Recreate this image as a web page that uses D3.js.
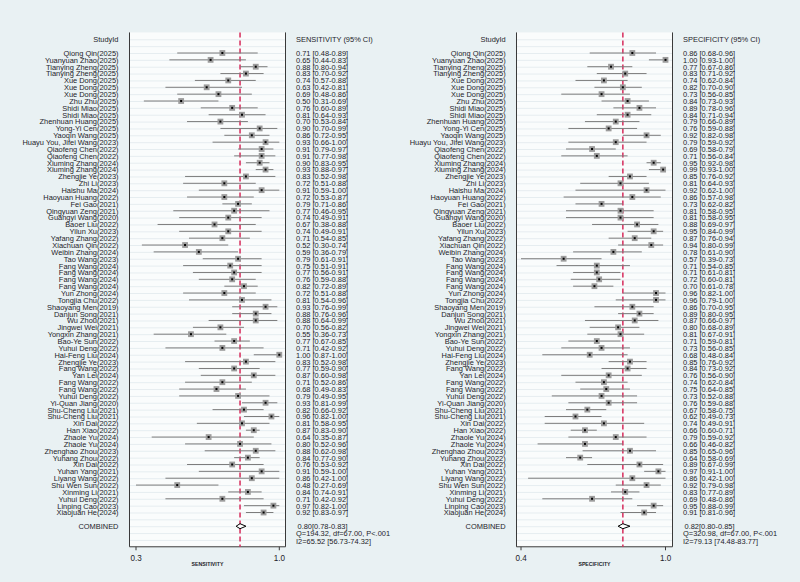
<!DOCTYPE html>
<html>
<head>
<meta charset="utf-8">
<script src="https://cdn.jsdelivr.net/npm/d3@7"></script>
<style>
body{margin:0;background:#e9f1f3;}
text{font-family:"Liberation Sans",Arial,sans-serif;fill:#1d2329;}
</style>
</head>
<body>
<div id="chart"></div>
<script>
var studies = ["Qiong Qin(2025)","Yuanyuan Zhao(2025)","Tianying Zheng(2025)","Tianying Zheng(2025)","Xue Dong(2025)","Xue Dong(2025)","Xue Dong(2025)","Zhu Zhu(2025)","Shidi Miao(2025)","Shidi Miao(2025)","Zhenhuan Huang(2025)","Yong-Yi Cen(2025)","Yaoqin Wang(2025)","Huayu You, Jifei Wang(2023)","Qiaofeng Chen(2022)","Qiaofeng Chen(2022)","Xiuming Zhang(2024)","Xiuming Zhang(2024)","Zhengjie Ye(2023)","Zhi Li(2023)","Haishu Ma(2024)","Haoyuan Huang(2022)","Fei Gao(2021)","Qingyuan Zeng(2021)","Guangyi Wang(2020)","Baoer Liu(2022)","Yilun Xu(2023)","Yafang Zhang(2022)","Xiachuan Qin(2022)","Weibin Zhang(2024)","Tao Wang(2023)","Fang Wang(2024)","Fang Wang(2024)","Fang Wang(2024)","Fang Wang(2024)","Yun Zhong(2024)","Tongjia Chu(2022)","Shaoyang Men(2019)","Danjun Song(2021)","Wu Zhou(2021)","Jingwei Wei(2021)","Yongxin Zhang(2021)","Bao-Ye Sun(2022)","Yuhui Deng(2022)","Hai-Feng Liu(2024)","Zhengjie Ye(2023)","Fang Wang(2022)","Yan Lei(2024)","Fang Wang(2022)","Fang Wang(2022)","Yuhui Deng(2022)","Yi-Quan Jiang(2020)","Shu-Cheng Liu(2021)","Shu-Cheng Liu(2021)","Xin Dai(2022)","Han Xiao(2022)","Zhaole Yu(2024)","Zhaole Yu(2024)","Zhenghao Zhou(2023)","Yuhang Zhou(2022)","Xin Dai(2022)","Yuhan Yang(2021)","Liyang Wang(2022)","Shu Wen Sun(2022)","Xinming Li(2021)","Yuhui Deng(2022)","Linping Cao(2023)","Xiaojuan He(2024)"];

var sensEst = [0.71,0.65,0.88,0.83,0.74,0.63,0.69,0.50,0.76,0.81,0.70,0.90,0.86,0.93,0.91,0.91,0.90,0.93,0.83,0.72,0.91,0.72,0.79,0.77,0.74,0.67,0.74,0.71,0.52,0.59,0.79,0.75,0.77,0.76,0.82,0.72,0.81,0.93,0.88,0.88,0.70,0.55,0.77,0.71,1.00,0.83,0.77,0.87,0.71,0.68,0.79,0.93,0.82,0.96,0.81,0.87,0.64,0.80,0.88,0.84,0.76,0.91,0.86,0.48,0.84,0.71,0.97,0.92];
var sensLo = [0.48,0.44,0.80,0.70,0.57,0.42,0.48,0.31,0.60,0.64,0.53,0.70,0.72,0.66,0.79,0.77,0.83,0.88,0.52,0.51,0.59,0.53,0.71,0.46,0.49,0.38,0.49,0.54,0.30,0.36,0.61,0.51,0.56,0.59,0.72,0.51,0.54,0.76,0.76,0.64,0.56,0.36,0.67,0.42,0.87,0.52,0.59,0.60,0.52,0.49,0.49,0.81,0.66,0.82,0.58,0.83,0.35,0.52,0.62,0.77,0.53,0.59,0.42,0.27,0.74,0.42,0.82,0.83];
var sensHi = [0.89,0.83,0.94,0.92,0.88,0.81,0.86,0.69,0.89,0.93,0.84,0.99,0.95,1.00,0.97,0.98,0.95,0.97,0.98,0.88,1.00,0.87,0.86,0.95,0.91,0.88,0.91,0.85,0.74,0.79,0.91,0.91,0.91,0.88,0.89,0.88,0.96,0.99,0.96,0.99,0.82,0.73,0.85,0.92,1.00,0.98,0.90,0.98,0.86,0.83,0.95,0.99,0.92,1.00,0.95,0.90,0.87,0.96,0.98,0.90,0.92,1.00,1.00,0.69,0.91,0.92,1.00,0.97];

var specEst = [0.86,1.00,0.77,0.83,0.74,0.82,0.73,0.84,0.89,0.84,0.79,0.76,0.92,0.79,0.69,0.71,0.95,0.99,0.85,0.81,0.92,0.86,0.73,0.81,0.81,0.88,0.95,0.87,0.94,0.78,0.57,0.71,0.71,0.72,0.70,0.96,0.96,0.86,0.89,0.87,0.80,0.81,0.71,0.73,0.68,0.85,0.84,0.76,0.74,0.75,0.73,0.76,0.67,0.62,0.74,0.66,0.79,0.66,0.85,0.64,0.89,0.97,0.86,0.92,0.83,0.69,0.95,0.91];
var specLo = [0.68,0.93,0.67,0.71,0.62,0.70,0.56,0.73,0.78,0.71,0.66,0.59,0.82,0.59,0.58,0.56,0.92,0.93,0.76,0.64,0.62,0.57,0.62,0.58,0.58,0.69,0.84,0.76,0.80,0.61,0.39,0.54,0.61,0.60,0.61,0.82,0.79,0.70,0.80,0.66,0.68,0.67,0.59,0.56,0.48,0.76,0.73,0.56,0.62,0.64,0.52,0.59,0.58,0.49,0.49,0.60,0.59,0.46,0.65,0.58,0.67,0.91,0.42,0.79,0.77,0.48,0.88,0.81];
var specHi = [0.96,1.00,0.86,0.92,0.84,0.90,0.85,0.93,0.96,0.94,0.89,0.88,0.98,0.92,0.79,0.84,0.98,1.00,0.92,0.93,1.00,0.98,0.82,0.95,0.95,0.97,0.99,0.94,0.99,0.90,0.73,0.85,0.81,0.81,0.78,1.00,1.00,0.95,0.95,0.97,0.89,0.91,0.81,0.85,0.84,0.92,0.92,0.90,0.84,0.85,0.88,0.88,0.75,0.73,0.91,0.71,0.92,0.82,0.96,0.69,0.99,1.00,1.00,0.98,0.89,0.86,0.99,0.96];

// pooled estimate, lower, upper
var sensPooled = [0.80,0.78,0.83];
var specPooled = [0.82,0.80,0.85];
var sensStats = ["Q=194.32, df=67.00, P<.001","I2=65.52 [56.73-74.32]"];
var specStats = ["Q=320.98, df=67.00, P<.001","I2=79.13 [74.48-83.77]"];

// axis ends (min lower CI / max upper CI) and how they are printed
var sensTicks = [0.27,1.00];
var sensTickLabels = ["0.3","1.0"];
var specTicks = [0.39,1.00];
var specTickLabels = ["0.4","1.0"];

var width = 800, height = 582;
var fmt = d3.format(".2f");

var svg = d3.select("#chart").append("svg")
    .attr("width", width)
    .attr("height", height);

var yScale = d3.scaleLinear().domain([0, studies.length - 1]).range([53, 512.5]);

function txt(g, x, y, s, anchor, size, sx){
    return g.append("text")
        .attr("transform", "translate(" + x + "," + y + ") scale(" + (sx || 0.92) + ",1)")
        .attr("text-anchor", anchor)
        .style("font-size", size + "px")
        .text(s);
}

function panel(opt){
    var g = svg.append("g");
    var xScale = d3.scaleLinear().domain(opt.ticks).range(opt.range);
    var top = yScale(-3), bottom = yScale(72);

    // plot area
    g.append("rect")
        .attr("x", opt.box[0]).attr("y", top)
        .attr("width", opt.box[1] - opt.box[0]).attr("height", bottom - top)
        .attr("fill", "#fafcfc");

    d3.range(-2, 72).forEach(function(r){
        g.append("line")
            .attr("x1", opt.box[0]).attr("x2", opt.box[1])
            .attr("y1", yScale(r) + 0.5).attr("y2", yScale(r) + 0.5)
            .attr("stroke", "#e6edf0").attr("stroke-width", 1);
    });

    g.append("path")
        .attr("d", "M" + opt.box[0] + "," + top + "V" + bottom + "H" + opt.box[1] + "V" + top)
        .attr("fill", "none").attr("stroke", "#3a3a3a").attr("stroke-width", 1);

    // pooled line
    g.append("line")
        .attr("x1", xScale(opt.pooled[0])).attr("x2", xScale(opt.pooled[0]))
        .attr("y1", top).attr("y2", bottom)
        .attr("stroke", "#d62c5c").attr("stroke-width", 1.5)
        .attr("stroke-dasharray", "5,3");

    // study rows
    studies.forEach(function(s, i){
        var y = yScale(i);
        g.append("line")
            .attr("x1", xScale(opt.lo[i])).attr("x2", xScale(opt.hi[i]))
            .attr("y1", y).attr("y2", y)
            .attr("stroke", "#7c7c7c").attr("stroke-width", 1);
        g.append("rect")
            .attr("x", xScale(opt.est[i]) - 2.9).attr("y", y - 2.9)
            .attr("width", 5.8).attr("height", 5.8)
            .attr("fill", "#9c9c9c");
        g.append("rect")
            .attr("x", xScale(opt.est[i]) - 1).attr("y", y - 1)
            .attr("width", 2).attr("height", 2)
            .attr("fill", "#000");
        txt(g, opt.labelX, y + 2.9, s, "end", 8.1);
        txt(g, opt.valX, y + 2.9, fmt(opt.est[i]) + " [" + fmt(opt.lo[i]) + "-" + fmt(opt.hi[i]) + "]", "start", 8.1);
    });

    // combined
    var yc = yScale(69);
    g.append("path")
        .attr("d", "M" + xScale(opt.pooled[1]) + "," + yc +
                   "L" + xScale(opt.pooled[0]) + "," + (yc - 2.5) +
                   "L" + xScale(opt.pooled[2]) + "," + yc +
                   "L" + xScale(opt.pooled[0]) + "," + (yc + 2.5) + "Z")
        .attr("fill", "#fff").attr("stroke", "#000").attr("stroke-width", 1);
    txt(g, opt.labelX, yc + 3, "COMBINED", "end", 8.1);
    txt(g, opt.valX + 1.5, yc + 3, fmt(opt.pooled[0]) + "[" + fmt(opt.pooled[1]) + "-" + fmt(opt.pooled[2]) + "]", "start", 8.1);
    txt(g, opt.valX, yScale(70.05) + 3, opt.stats[0], "start", 8.1);
    txt(g, opt.valX, yScale(71.1) + 3, opt.stats[1], "start", 8.1);

    // headers
    txt(g, opt.labelX, yScale(-2) + 3, "StudyId", "end", 8.1);
    txt(g, opt.valX, yScale(-2) + 3, opt.title, "start", 8.1);

    // axis
    opt.ticks.forEach(function(t, k){
        g.append("line")
            .attr("x1", xScale(t)).attr("x2", xScale(t))
            .attr("y1", bottom).attr("y2", bottom + 3.5)
            .attr("stroke", "#3a3a3a");
        txt(g, xScale(t), 560.5, opt.tickLabels[k], "middle", 9, 0.9);
    });
    txt(g, (opt.box[0] + opt.box[1]) / 2, 566, opt.axisTitle, "middle", 5.5, 0.95)
        .style("font-weight", "bold");
}

panel({
    est: sensEst, lo: sensLo, hi: sensHi, pooled: sensPooled, stats: sensStats,
    ticks: sensTicks, tickLabels: sensTickLabels,
    range: [136, 279.3], box: [129.5, 285.5], labelX: 118.5, valX: 296,
    title: "SENSITIVITY (95% CI)", axisTitle: "SENSITIVITY"
});

panel({
    est: specEst, lo: specLo, hi: specHi, pooled: specPooled, stats: specStats,
    ticks: specTicks, tickLabels: specTickLabels,
    range: [521, 665.5], box: [516.5, 672.5], labelX: 505.7, valX: 683,
    title: "SPECIFICITY (95% CI)", axisTitle: "SPECIFICITY"
});
</script>
</body>
</html>
